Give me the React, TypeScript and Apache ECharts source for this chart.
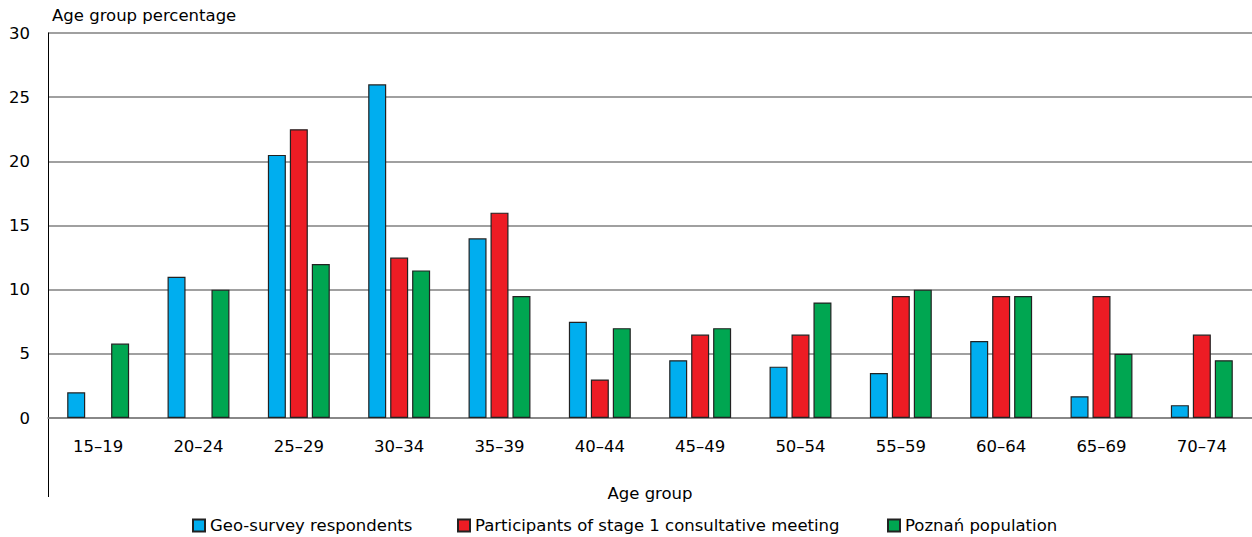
import React, { useEffect, useRef } from "react";
import * as echarts from "echarts";

const categories = ["15–19", "20–24", "25–29", "30–34", "35–39", "40–44", "45–49", "50–54", "55–59", "60–64", "65–69", "70–74"];
const geoSurvey = [2, 11, 20.5, 26, 14, 7.5, 4.5, 4, 3.5, 6, 1.7, 1];
const participants = [0, 0, 22.5, 12.5, 16, 3, 6.5, 6.5, 9.5, 9.5, 9.5, 6.5];
const poznan = [5.8, 10, 12, 11.5, 9.5, 7, 7, 9, 10, 9.5, 5, 4.5];
const seriesNames = ["Geo-survey respondents", "Participants of stage 1 consultative meeting", "Poznań population"];
const colors = ["#00AEEF", "#ED1C24", "#00A651"];

export default function App() {
  const ref = useRef<HTMLDivElement>(null);
  useEffect(() => {
    document.body.style.margin = "0";
    const chart = echarts.init(ref.current!, null, { renderer: "svg" });
    const font = "DejaVu Sans, Liberation Sans, Arial, sans-serif";
    const fs = 16.5;
    const data = [geoSurvey, participants, poznan];
    const legendLefts = [192, 457, 887];
    chart.setOption({
      animation: false,
      textStyle: { fontFamily: font },
      grid: { left: 48, right: 0, top: 33, bottom: 119 },
      legend: seriesNames.map((n, i) => ({
        data: [n],
        left: legendLefts[i],
        top: 517,
        padding: 0,
        itemWidth: 12,
        itemHeight: 12,
        itemGap: 0,
        icon: "rect",
        textStyle: { fontSize: fs, color: "#000", fontFamily: font },
      })),
      xAxis: {
        type: "category",
        data: categories,
        axisLine: { show: true, lineStyle: { color: "#808080", width: 1.5 } },
        axisTick: { show: false },
        axisLabel: { fontSize: fs, color: "#000", margin: 20, fontFamily: font },
        name: "Age group",
        nameLocation: "middle",
        nameGap: 67,
        nameTextStyle: { fontSize: fs, color: "#000", fontFamily: font },
      },
      yAxis: {
        type: "value",
        min: 0,
        max: 30,
        interval: 5,
        axisLine: { show: true, lineStyle: { color: "#000", width: 1 } },
        axisTick: { show: false },
        axisLabel: { fontSize: fs, color: "#000", margin: 18, fontFamily: font },
        splitLine: { show: true, lineStyle: { color: "#808080", width: 1.5 } },
      },
      graphic: [
        {
          type: "text",
          left: 52,
          top: 7,
          style: { text: "Age group percentage", fontSize: fs, fill: "#000", fontFamily: font },
        },
        {
          type: "line",
          shape: { x1: 48.5, y1: 418, x2: 48.5, y2: 497 },
          style: { stroke: "#000", lineWidth: 1 },
        },
      ],
      series: seriesNames.map((n, i) => ({
        name: n,
        type: "bar",
        data: data[i].map((v) => (v === 0 ? null : v)),
        barWidth: 18,
        barGap: "22%",
        itemStyle: { color: colors[i], borderColor: "#222", borderWidth: 1.2 },
      })),
    });
    return () => chart.dispose();
  }, []);
  return <div ref={ref} style={{ width: 1252, height: 537 }} />;
}
